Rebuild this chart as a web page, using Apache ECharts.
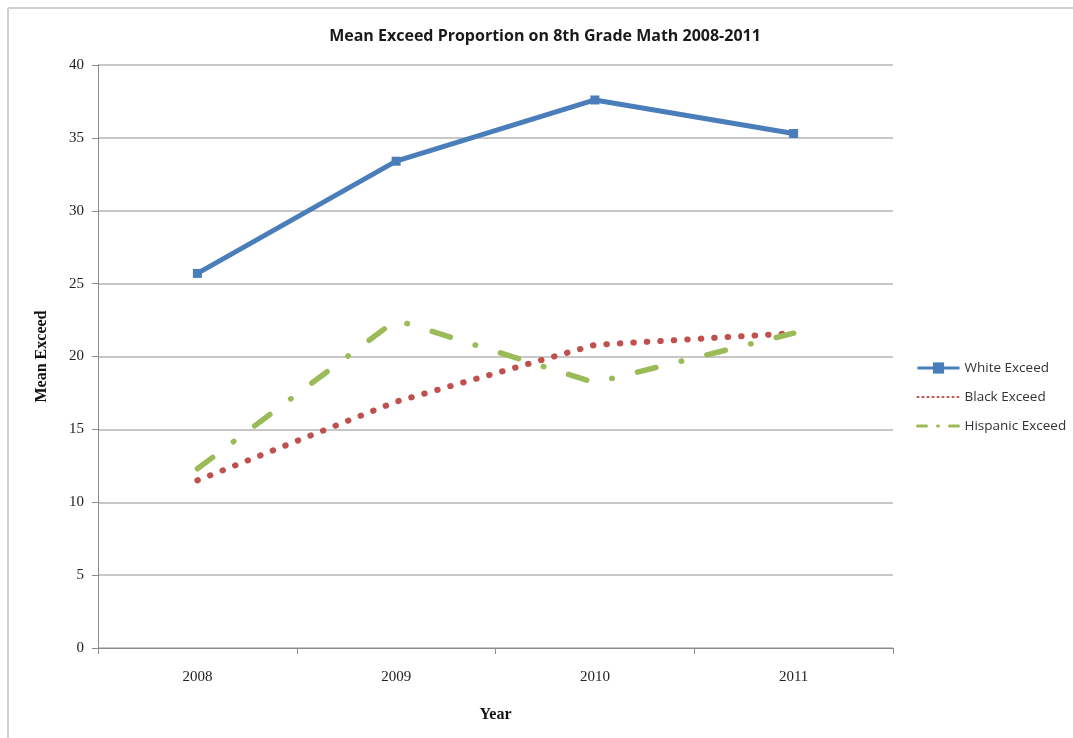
<!DOCTYPE html>
<html>
<head>
<meta charset="utf-8">
<title>Mean Exceed Proportion on 8th Grade Math 2008-2011</title>
<script src="https://cdn.jsdelivr.net/npm/echarts@6/dist/echarts.min.js"></script>
<style>
  html, body { margin: 0; padding: 0; background: #ffffff; }
  #chart { width: 1073px; height: 738px; }
</style>
</head>
<body>
<div id="chart"></div>
<script>
// School years on the horizontal axis
const years = ['2008', '2009', '2010', '2011'];

// Mean exceed proportion by group
const whiteExceed = [25.7, 33.4, 37.6, 35.3];
const blackExceed = [11.5, 16.9, 20.8, 21.6];
const hispanicExceed = [12.3, 22.5, 18.2, 21.6];

const yTicks = { min: 0, max: 40, interval: 5 };

const serif = '"Liberation Serif", "DejaVu Serif", serif';
const sans = '"Open Sans", "Noto Sans", sans-serif';

const blue = '#4a7ebb';
const red = '#c0504d';
const green = '#9bbb59';
const clear = 'rgba(0,0,0,0)';

const chart = echarts.init(document.getElementById('chart'));

chart.setOption({
  animation: false,
  backgroundColor: '#ffffff',
  title: {
    text: 'Mean Exceed Proportion on 8th Grade Math 2008-2011',
    left: 540,
    top: 23,
    textAlign: 'center',
    textStyle: { fontFamily: sans, fontSize: 16, fontWeight: 'bold', color: '#1a1a1a' }
  },
  grid: { left: 98, right: 180, top: 65, bottom: 90, containLabel: false },
  legend: {
    orient: 'vertical',
    left: 916,
    top: 361,
    padding: 0,
    itemWidth: 42,
    itemHeight: 14,
    itemGap: 15,
    textStyle: { fontFamily: sans, fontSize: 13.5, lineHeight: 14, color: '#333333' },
    data: [
      { name: 'White Exceed', lineStyle: { width: 3 } },
      { name: 'Black Exceed', lineStyle: { width: 2, type: [1, 4], cap: 'round' } },
      { name: 'Hispanic Exceed', lineStyle: { width: 3, type: [9, 11, 1, 11], cap: 'round' } }
    ]
  },
  xAxis: {
    type: 'category',
    data: years,
    boundaryGap: true,
    name: 'Year',
    nameLocation: 'middle',
    nameGap: 59,
    nameTextStyle: { fontFamily: serif, fontSize: 16, fontWeight: 'bold', color: '#111111' },
    axisLine: { lineStyle: { color: '#8c8c8c', width: 1 } },
    axisTick: { show: true, length: 6, lineStyle: { color: '#8c8c8c' } },
    axisLabel: { fontFamily: serif, fontSize: 15, color: '#222222', margin: 22 },
    splitLine: { show: false }
  },
  yAxis: {
    type: 'value',
    min: yTicks.min,
    max: yTicks.max,
    interval: yTicks.interval,
    name: 'Mean Exceed',
    nameLocation: 'middle',
    nameGap: 48,
    nameRotate: 90,
    nameTextStyle: { fontFamily: serif, fontSize: 16, fontWeight: 'bold', color: '#111111' },
    axisLine: { show: true, lineStyle: { color: '#8c8c8c', width: 1 } },
    axisTick: { show: true, length: 6, lineStyle: { color: '#8c8c8c' } },
    axisLabel: { fontFamily: serif, fontSize: 15, color: '#222222', margin: 14 },
    splitLine: { show: true, lineStyle: { color: '#b4b4b4', width: 1.5 } }
  },
  series: [
    {
      name: 'White Exceed',
      type: 'line',
      data: whiteExceed,
      symbol: 'rect',
      symbolSize: 9,
      lineStyle: { width: 5, color: blue },
      itemStyle: { color: blue }
    },
    {
      name: 'Black Exceed',
      type: 'line',
      data: blackExceed,
      symbol: 'none',
      lineStyle: { width: 6, color: red, type: [0.5, 13], cap: 'round' },
      itemStyle: { color: clear }
    },
    {
      name: 'Hispanic Exceed',
      type: 'line',
      data: hispanicExceed,
      symbol: 'none',
      lineStyle: { width: 5.5, color: green, type: [19, 26, 0.5, 26], cap: 'round' },
      itemStyle: { color: clear }
    }
  ],
  graphic: [
    { type: 'line', shape: { x1: 8, y1: 8, x2: 1073, y2: 8 }, style: { stroke: '#cfcfcf', lineWidth: 2 } },
    { type: 'line', shape: { x1: 8, y1: 8, x2: 8, y2: 738 }, style: { stroke: '#cfcfcf', lineWidth: 2 } }
  ]
});
</script>
</body>
</html>
